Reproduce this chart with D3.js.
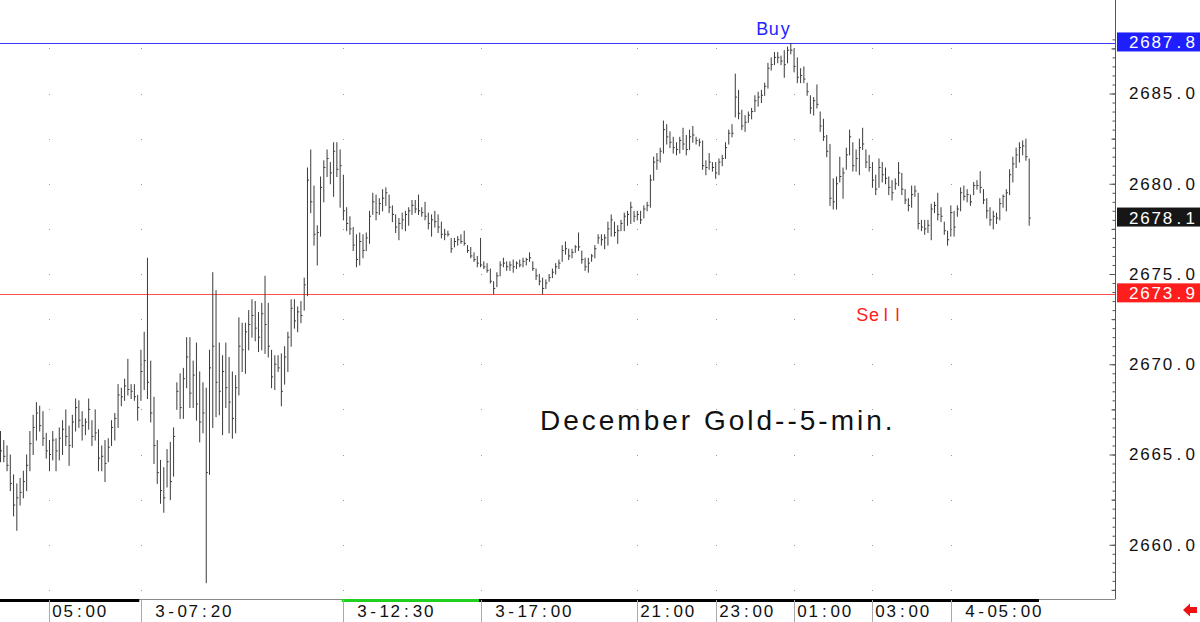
<!DOCTYPE html>
<html>
<head>
<meta charset="utf-8">
<script src="https://cdn.jsdelivr.net/npm/d3@7"></script>
<style>
  html, body { margin: 0; padding: 0; background: #fff; }
  svg { display: block; font-family: "Liberation Sans", Arial, sans-serif; }
  text { white-space: pre; }
</style>
</head>
<body>
<div id="chart"></div>
<script>
// December gold, 5-minute bars (high / low / close)
const highs = [
  2666.3, 2665.8, 2665.5, 2665.0, 2663.9, 2663.4, 2663.7, 2664.1, 2665.0, 2666.3,
  2667.2, 2667.9, 2667.7, 2667.4, 2666.2, 2665.8, 2666.3, 2665.9, 2666.5, 2666.9,
  2667.5, 2666.6, 2667.2, 2668.1, 2668.0, 2667.4, 2667.0, 2668.1, 2666.9, 2667.5,
  2666.4, 2665.5, 2665.8, 2665.9, 2666.9, 2667.3, 2668.9, 2668.7, 2669.2, 2670.3,
  2668.9, 2668.9, 2668.3, 2670.8, 2671.8, 2675.9, 2670.2, 2668.2, 2665.8, 2664.7,
  2664.3, 2665.3, 2665.7, 2666.5, 2669.0, 2669.5, 2669.8, 2671.5, 2671.5, 2670.2,
  2671.2, 2669.6, 2669.0, 2668.7, 2670.8, 2675.1, 2674.1, 2671.2, 2670.5, 2671.2,
  2670.4, 2669.6, 2669.4, 2672.6, 2672.3, 2672.3, 2673.0, 2673.6, 2673.5, 2672.9,
  2673.4, 2674.9, 2673.4, 2670.8, 2670.5, 2670.5, 2670.6, 2671.0, 2671.8, 2673.6,
  2673.6, 2673.2, 2673.5, 2674.8, 2680.9, 2681.9, 2679.9, 2677.7, 2680.4, 2681.3,
  2681.9, 2681.2, 2682.3, 2682.3, 2681.9, 2680.5, 2678.7, 2678.2, 2677.6, 2677.2,
  2677.3, 2677.2, 2677.3, 2678.5, 2679.5, 2679.4, 2679.2, 2679.7, 2679.8, 2679.4,
  2678.8, 2678.3, 2678.1, 2678.4, 2678.5, 2678.7, 2679.1, 2679.1, 2679.4, 2678.7,
  2679.0, 2678.4, 2678.3, 2678.5, 2678.3, 2677.9, 2677.5, 2677.4, 2677.0, 2677.0,
  2677.1, 2677.2, 2677.4, 2676.6, 2676.5, 2676.2, 2676.0, 2677.0, 2675.7, 2675.6,
  2675.3, 2674.6, 2675.1, 2675.7, 2675.9, 2675.7, 2675.7, 2675.8, 2675.7, 2675.8,
  2675.9, 2675.9, 2676.2, 2675.7, 2675.3, 2675.0, 2674.8, 2674.7, 2675.0, 2675.3,
  2675.6, 2675.8, 2676.6, 2676.8, 2676.4, 2676.4, 2676.6, 2677.3, 2676.3, 2675.9,
  2675.9, 2676.1, 2676.6, 2677.2, 2677.2, 2677.2, 2677.9, 2678.3, 2677.9, 2677.7,
  2678.0, 2678.4, 2678.5, 2679.0, 2678.5, 2678.5, 2678.5, 2678.8, 2679.0, 2680.5,
  2681.5, 2681.7, 2682.0, 2683.5, 2683.3, 2682.9, 2682.6, 2682.3, 2682.6, 2683.1,
  2682.7, 2683.0, 2683.2, 2682.6, 2682.5, 2682.4, 2681.3, 2681.7, 2681.2, 2681.2,
  2681.4, 2681.6, 2682.3, 2683.0, 2683.3, 2686.1, 2685.2, 2684.1, 2683.8, 2684.0,
  2684.2, 2684.9, 2685.1, 2685.2, 2685.6, 2686.7, 2687.0, 2687.3, 2687.3, 2687.1,
  2687.4, 2687.6, 2687.8, 2687.5, 2687.0, 2686.4, 2686.5, 2685.6, 2684.9, 2684.8,
  2685.5, 2684.0, 2683.6, 2682.7, 2682.2, 2680.3, 2680.4, 2681.5, 2680.9, 2682.0,
  2683.0, 2682.3, 2681.9, 2682.5, 2683.1, 2681.9, 2681.6, 2681.2, 2680.5, 2681.4,
  2681.2, 2680.9, 2680.4, 2680.2, 2680.3, 2681.2, 2680.6, 2679.7, 2679.2, 2679.9,
  2679.9, 2679.5, 2678.0, 2678.0, 2678.0, 2678.9, 2679.0, 2679.5, 2678.7, 2677.9,
  2677.4, 2678.8, 2678.5, 2678.8, 2679.8, 2679.9, 2679.7, 2679.4, 2680.1, 2680.2,
  2680.7, 2679.7, 2679.2, 2678.7, 2678.5, 2678.4, 2679.2, 2679.4, 2679.7, 2680.8,
  2681.5, 2682.0, 2682.3, 2682.4, 2682.5, 2681.4
];
const lows = [
  2664.6, 2664.6, 2664.1, 2663.0, 2661.6, 2660.8, 2662.2, 2662.6, 2663.0, 2664.1,
  2665.0, 2665.8, 2666.3, 2665.5, 2664.8, 2664.1, 2664.7, 2664.1, 2664.7, 2665.0,
  2665.5, 2664.4, 2665.4, 2666.3, 2666.5, 2665.8, 2666.1, 2666.4, 2665.5, 2665.8,
  2664.1, 2664.1, 2663.5, 2664.6, 2665.5, 2665.8, 2666.5, 2667.7, 2668.0, 2668.3,
  2668.1, 2668.0, 2666.9, 2668.0, 2668.6, 2668.1, 2666.8, 2664.5, 2663.4, 2662.3,
  2661.8, 2663.2, 2662.5, 2663.8, 2667.5, 2667.0, 2667.0, 2668.7, 2667.6, 2667.6,
  2666.9, 2665.7, 2666.2, 2657.9, 2663.9, 2666.5, 2667.1, 2667.2, 2666.1, 2667.6,
  2666.2, 2665.9, 2666.2, 2668.3, 2669.6, 2669.5, 2670.8, 2671.5, 2671.3, 2670.7,
  2670.8, 2670.6, 2670.4, 2668.7, 2668.6, 2669.6, 2667.7, 2668.9, 2669.6, 2671.0,
  2672.0, 2671.8, 2672.3, 2673.0, 2673.8, 2678.4, 2676.6, 2675.5, 2677.1, 2679.0,
  2680.4, 2680.0, 2679.3, 2680.4, 2678.7, 2678.0, 2677.4, 2677.2, 2676.3, 2675.4,
  2675.5, 2675.9, 2676.3, 2676.7, 2678.3, 2678.0, 2678.3, 2678.5, 2678.8, 2678.4,
  2677.9, 2677.3, 2676.9, 2677.5, 2677.4, 2677.7, 2678.3, 2678.4, 2678.3, 2678.2,
  2678.0, 2677.5, 2677.1, 2677.6, 2677.3, 2677.0, 2676.9, 2677.1, 2676.2, 2676.5,
  2676.6, 2676.7, 2676.6, 2676.2, 2675.9, 2675.7, 2675.4, 2675.4, 2675.3, 2675.1,
  2674.5, 2673.9, 2674.3, 2674.9, 2675.4, 2675.2, 2675.2, 2675.1, 2675.3, 2675.4,
  2675.4, 2675.5, 2675.7, 2675.2, 2674.7, 2674.4, 2673.9, 2674.2, 2674.6, 2674.8,
  2675.0, 2675.3, 2675.7, 2676.1, 2675.8, 2675.9, 2676.2, 2676.3, 2675.6, 2675.2,
  2675.1, 2675.7, 2675.9, 2676.7, 2676.6, 2676.4, 2676.6, 2677.1, 2677.1, 2676.7,
  2677.4, 2677.4, 2677.7, 2677.8, 2677.9, 2678.0, 2677.8, 2678.1, 2678.5, 2678.7,
  2680.2, 2680.8, 2681.2, 2681.7, 2682.2, 2682.0, 2681.7, 2681.6, 2681.7, 2681.9,
  2681.6, 2681.9, 2682.3, 2682.2, 2682.1, 2680.8, 2680.5, 2680.8, 2680.7, 2680.3,
  2680.5, 2681.0, 2681.4, 2682.2, 2682.6, 2683.7, 2683.6, 2683.0, 2682.9, 2683.4,
  2683.6, 2684.0, 2684.3, 2684.5, 2684.9, 2685.3, 2686.3, 2686.6, 2686.7, 2686.6,
  2685.9, 2686.7, 2687.2, 2686.2, 2685.6, 2685.6, 2685.6, 2684.9, 2683.9, 2683.8,
  2684.2, 2682.9, 2682.4, 2681.5, 2678.8, 2678.6, 2678.6, 2680.1, 2679.2, 2680.8,
  2681.6, 2680.7, 2680.7, 2680.5, 2681.9, 2680.9, 2680.7, 2679.8, 2679.4, 2679.8,
  2680.1, 2680.0, 2679.4, 2679.1, 2679.7, 2679.9, 2679.4, 2678.9, 2678.5, 2678.7,
  2679.3, 2677.5, 2677.4, 2677.2, 2677.3, 2676.9, 2678.4, 2678.0, 2677.9, 2677.2,
  2676.6, 2677.1, 2677.1, 2678.2, 2678.5, 2679.1, 2679.0, 2678.8, 2679.4, 2679.7,
  2679.5, 2678.9, 2678.1, 2677.7, 2677.5, 2677.8, 2678.0, 2678.7, 2678.5, 2679.4,
  2680.1, 2680.9, 2681.2, 2681.6, 2681.3, 2677.7
];
const closes = [
  2665.2, 2664.9, 2664.4, 2663.4, 2662.2, 2662.6, 2662.9, 2663.5, 2664.4, 2665.6,
  2666.5, 2667.3, 2666.6, 2665.9, 2665.2, 2665.0, 2665.8, 2665.2, 2665.9, 2666.4,
  2666.0, 2665.5, 2666.8, 2667.6, 2666.9, 2666.6, 2666.8, 2667.5, 2666.0, 2666.2,
  2664.8, 2664.9, 2664.5, 2665.4, 2666.5, 2667.0, 2668.3, 2668.2, 2668.8, 2668.6,
  2668.5, 2668.2, 2667.6, 2669.6, 2670.2, 2669.0, 2667.3, 2665.5, 2664.0, 2663.0,
  2662.6, 2664.6, 2663.5, 2666.0, 2668.5, 2667.6, 2669.2, 2670.4, 2668.4, 2669.4,
  2667.8, 2666.8, 2667.3, 2664.0, 2669.8, 2671.0, 2669.0, 2668.5, 2669.6, 2668.7,
  2667.9, 2667.0, 2668.7, 2671.0, 2670.8, 2671.8, 2672.2, 2672.7, 2672.0, 2671.5,
  2672.8, 2672.2, 2671.0, 2669.3, 2670.0, 2669.8, 2668.5, 2670.4, 2671.5, 2673.1,
  2672.4, 2672.9, 2672.7, 2674.4, 2680.2, 2679.0, 2677.2, 2677.3, 2679.8, 2680.9,
  2681.4, 2680.6, 2681.8, 2680.8, 2681.0, 2678.5, 2677.8, 2677.5, 2676.6, 2675.8,
  2676.8, 2676.3, 2677.0, 2678.2, 2679.0, 2678.4, 2678.9, 2679.2, 2679.5, 2678.7,
  2678.3, 2677.6, 2677.8, 2678.0, 2678.3, 2678.5, 2678.8, 2678.6, 2678.5, 2678.4,
  2678.2, 2677.8, 2678.0, 2677.9, 2677.6, 2677.2, 2677.2, 2677.2, 2676.4, 2676.8,
  2676.9, 2676.8, 2676.7, 2676.3, 2676.0, 2675.8, 2675.6, 2675.5, 2675.4, 2675.2,
  2674.6, 2674.2, 2674.9, 2675.5, 2675.6, 2675.4, 2675.5, 2675.4, 2675.6, 2675.5,
  2675.7, 2675.8, 2675.9, 2675.3, 2674.9, 2674.6, 2674.2, 2674.5, 2674.8, 2675.1,
  2675.4, 2675.6, 2676.3, 2676.4, 2676.0, 2676.2, 2676.5, 2676.5, 2675.8, 2675.4,
  2675.6, 2676.0, 2676.4, 2677.0, 2676.9, 2677.0, 2677.5, 2678.0, 2677.3, 2677.4,
  2677.8, 2678.2, 2678.3, 2678.7, 2678.2, 2678.3, 2678.0, 2678.6, 2678.8, 2680.2,
  2681.2, 2681.3, 2681.8, 2683.0, 2682.6, 2682.3, 2682.0, 2681.9, 2682.4, 2682.2,
  2681.9, 2682.6, 2682.7, 2682.4, 2682.3, 2681.0, 2680.9, 2681.2, 2680.9, 2680.6,
  2681.2, 2681.4, 2682.0, 2682.8, 2682.8, 2684.8, 2683.9, 2683.2, 2683.4, 2683.8,
  2684.0, 2684.6, 2684.8, 2684.9, 2685.4, 2686.4, 2686.6, 2687.0, 2687.0, 2686.8,
  2686.6, 2687.4, 2687.4, 2686.5, 2685.9, 2686.0, 2685.8, 2685.1, 2684.2, 2684.6,
  2684.4, 2683.2, 2682.6, 2681.8, 2679.2, 2679.0, 2680.0, 2680.4, 2680.6, 2681.6,
  2682.6, 2681.0, 2681.4, 2682.0, 2682.2, 2681.2, 2680.9, 2680.2, 2679.7, 2680.9,
  2680.5, 2680.3, 2679.8, 2679.5, 2680.0, 2680.6, 2679.7, 2679.1, 2678.8, 2679.4,
  2679.6, 2677.8, 2677.6, 2677.5, 2677.7, 2678.6, 2678.8, 2678.3, 2678.2, 2677.4,
  2676.9, 2678.4, 2677.6, 2678.6, 2679.5, 2679.3, 2679.4, 2679.0, 2679.9, 2679.9,
  2679.8, 2679.1, 2678.5, 2678.0, 2678.2, 2678.1, 2678.9, 2679.3, 2679.5, 2680.5,
  2681.1, 2681.6, 2682.0, 2682.1, 2681.5, 2678.1
];

// time axis: bar index of each labelled separator
const tickBars = [15, 43, 105, 147, 195, 219, 243, 267, 291];
const tickLabels = ['05:00', '3-07:20', '3-12:30', '3-17:00', '21:00', '23:00', '01:00', '03:00', '4-05:00'];
// price axis
const priceTicks = [2660, 2665, 2670, 2675, 2680, 2685];
// session strip under the chart (bar index where each colour ends)
const sessionEnds = [42.5, 104.5, 146.5, 318];
const sessionKinds = ['black', 'grey', 'green', 'black', 'grey'];

const buyLevel = 2687.8;
const sellLevel = 2673.9;
const lastPrice = closes[closes.length - 1];
const title = 'December Gold--5-min.';

// ---------------- layout ----------------
const width = 1200;
const height = 622;
const plotRight = 1115.5;
const plotBottom = 599;

const svg = d3.select('#chart').append('svg')
    .attr('width', width)
    .attr('height', height);

const x = d3.scaleLinear()
    .domain([0, closes.length - 1])
    .range([0.5, 1029.2]);
const y = d3.scaleLinear()
    .domain([2660, 2685])
    .range([544.75, 93.5]);

// text laid out in fixed cells, like the terminal font of the original
function cellText(sel, str, x0, cell) {
    str.split('').forEach((ch, k) => {
        sel.append('tspan')
            .attr('x', x0 + (k + 0.5) * cell)
            .attr('text-anchor', 'middle')
            .text(ch);
    });
    return sel;
}

// grid dots on the time separators
const dotLevels = d3.range(2657.5, 2688, 2.5);
const dots = svg.append('g').attr('fill', '#9a9a9a');
tickBars.forEach((b) => {
    dots.selectAll(null)
        .data(dotLevels)
        .join('rect')
        .attr('x', Math.round(x(b)))
        .attr('y', (d) => Math.round(y(d)))
        .attr('width', 1)
        .attr('height', 1);
});

// buy / sell lines
svg.append('line')
    .attr('x1', 0).attr('x2', plotRight)
    .attr('y1', Math.round(y(buyLevel)) + 0.5).attr('y2', Math.round(y(buyLevel)) + 0.5)
    .attr('stroke', '#3a3aff');
svg.append('line')
    .attr('x1', 0).attr('x2', plotRight)
    .attr('y1', Math.round(y(sellLevel)) + 0.5).attr('y2', Math.round(y(sellLevel)) + 0.5)
    .attr('stroke', '#ff5050');

// ---------------- bars ----------------
const bars = svg.append('g').attr('stroke', '#3a3a3a').attr('stroke-width', 1);
bars.selectAll('line.hl')
    .data(closes)
    .join('line')
    .attr('class', 'hl')
    .attr('x1', (d, i) => x(i))
    .attr('x2', (d, i) => x(i))
    .attr('y1', (d, i) => y(highs[i]))
    .attr('y2', (d, i) => y(lows[i]) + 0.5);
bars.selectAll('line.cl')
    .data(closes)
    .join('line')
    .attr('class', 'cl')
    .attr('x1', (d, i) => x(i))
    .attr('x2', (d, i) => x(i) + 1.6)
    .attr('y1', (d) => y(d))
    .attr('y2', (d) => y(d));

// ---------------- labels in the plot ----------------
svg.append('text')
    .attr('x', 540)
    .attr('y', 430)
    .attr('font-size', 28)
    .attr('letter-spacing', 3)
    .attr('fill', '#111')
    .text(title);

cellText(svg.append('text')
    .attr('y', 35)
    .attr('font-size', 18)
    .attr('fill', '#2424ff'), 'Buy', 756.5, 11.5);

cellText(svg.append('text')
    .attr('y', 321)
    .attr('font-size', 18)
    .attr('fill', '#ff2020'), 'Sell', 856.5, 11.7);

// ---------------- price axis ----------------
const axisG = svg.append('g')
    .attr('transform', `translate(${plotRight},0)`);

axisG.append('g')
    .call(d3.axisRight(y).tickValues(d3.range(2657.5, 2688.1, 0.5)).tickSize(-3).tickFormat(''))
    .call((g) => g.select('.domain').remove());
axisG.append('g')
    .call(d3.axisRight(y).tickValues(d3.range(2657.5, 2688, 5)).tickSize(-4).tickFormat(''))
    .call((g) => g.select('.domain').remove());
const yAxis = axisG.append('g')
    .call(d3.axisRight(y).tickValues(priceTicks).tickSize(-6).tickPadding(12.5).tickFormat(d3.format('.1f')))
    .call((g) => g.select('.domain').remove());
axisG.selectAll('line').attr('stroke', '#555');
yAxis.selectAll('text')
    .attr('font-size', 17)
    .attr('fill', '#111')
    .attr('font-family', '"Liberation Sans", Arial, sans-serif')
    .each(function () {
        const t = d3.select(this);
        const s = t.text();
        t.text(null);
        cellText(t, s, 12.5, 11.3);
    });

axisG.append('line')
    .attr('x1', 0).attr('x2', 0)
    .attr('y1', 0).attr('y2', plotBottom)
    .attr('stroke', '#555');

// boxed price flags
const flags = [
    { v: buyLevel, fill: '#1e1eff' },
    { v: lastPrice, fill: '#161616' },
    { v: sellLevel, fill: '#ff1e1e' }
];
flags.forEach((f) => {
    const cy = y(f.v) - 1;
    svg.append('rect')
        .attr('x', plotRight + 1.5)
        .attr('y', cy - 9.5)
        .attr('width', width - plotRight - 1.5)
        .attr('height', 19)
        .attr('fill', f.fill);
    cellText(svg.append('text')
        .attr('y', y(f.v) + 5.5)
        .attr('font-size', 17)
        .attr('fill', '#fff'), d3.format('.1f')(f.v), plotRight + 12.5, 11.3);
});

// ---------------- time axis ----------------
svg.append('line')
    .attr('x1', 0).attr('x2', plotRight)
    .attr('y1', plotBottom + 0.5).attr('y2', plotBottom + 0.5)
    .attr('stroke', '#8a8a8a');

const sessionColor = { black: '#000', green: '#1fd01f' };
let from = -0.5;
sessionEnds.forEach((end, k) => {
    const kind = sessionKinds[k];
    if (sessionColor[kind]) {
        svg.append('rect')
            .attr('x', Math.max(0, x(from)))
            .attr('y', plotBottom)
            .attr('width', x(end) - Math.max(0, x(from)))
            .attr('height', 3)
            .attr('fill', sessionColor[kind]);
    }
    from = end;
});

const tickG = svg.append('g');
tickBars.forEach((b, k) => {
    const tx = Math.round(x(b)) + 0.5;
    tickG.append('line')
        .attr('x1', tx).attr('x2', tx)
        .attr('y1', plotBottom + 1).attr('y2', height)
        .attr('stroke', '#aaa');
    const label = tickLabels[k];
    const offset = label.includes('-') ? 13 : 2;
    cellText(tickG.append('text')
        .attr('y', 617)
        .attr('font-size', 17)
        .attr('fill', '#111'), label, tx + offset, 11.1);
});

// scroll arrow, bottom right
svg.append('path')
    .attr('d', 'M1183,610 L1190,603.5 L1190,607 L1197,607 L1197,613 L1190,613 L1190,616.5 Z')
    .attr('fill', '#ee1111');
</script>
</body>
</html>
